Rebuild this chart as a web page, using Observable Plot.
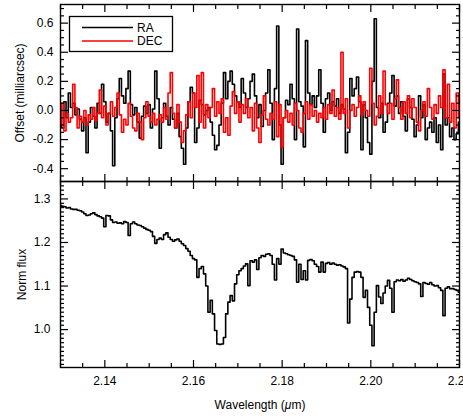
<!DOCTYPE html>
<html><head><meta charset="utf-8">
<script src="https://cdn.jsdelivr.net/npm/d3@7"></script>
<script src="https://cdn.jsdelivr.net/npm/@observablehq/plot@0.6"></script>
<style>
body{margin:0;background:#fff;}
#wrap{position:relative;width:463px;height:417px;overflow:hidden;font-family:"Liberation Sans",Arial,Helvetica,sans-serif;}
#wrap svg{position:absolute;left:0;background:transparent;}
</style></head><body><div id="wrap"></div>
<script>
// Wavelength sampling (µm)
const wlStart = 2.13, wlStep = 0.0005;

// Normalised flux (bottom panel)
const flux = [
1.285,1.283,1.282,1.279,1.280,1.277,1.276,1.276,1.274,1.273,
1.270,1.266,1.262,1.263,1.266,1.268,1.264,1.261,1.259,1.256,
1.236,1.262,1.261,1.252,1.246,1.247,1.244,1.245,1.243,1.248,
1.246,1.216,1.243,1.247,1.243,1.240,1.239,1.236,1.233,1.230,
1.228,1.225,1.214,1.198,1.207,1.210,1.207,1.218,1.222,1.212,
1.207,1.203,1.206,1.208,1.203,1.197,1.193,1.186,1.180,1.170,
1.163,1.160,1.120,1.140,1.145,1.128,1.100,1.040,1.067,1.036,
0.998,0.967,0.966,0.967,0.982,1.036,1.063,1.078,1.066,1.105,
1.126,1.135,1.140,1.146,1.151,1.101,1.158,1.155,1.160,1.138,
1.165,1.170,1.168,1.173,1.174,1.170,1.150,1.114,1.163,1.150,
1.185,1.176,1.174,1.172,1.170,1.168,1.160,1.109,1.150,1.115,
1.135,1.114,1.159,1.161,1.158,1.150,1.145,1.132,1.155,1.132,
1.152,1.154,1.150,1.153,1.150,1.148,1.149,1.146,1.144,1.140,
1.015,1.070,1.120,1.132,1.133,1.132,1.120,1.074,1.090,1.051,
1.010,0.963,1.040,1.101,1.075,1.060,1.084,1.100,1.113,1.095,
1.040,1.110,1.114,1.112,1.115,1.111,1.114,1.118,1.115,1.112,
1.110,1.108,1.105,1.076,1.108,1.106,1.104,1.108,1.103,1.100,
1.101,1.096,1.090,1.032,1.095,1.098,1.094,1.094,1.092,1.090,
1.086];

// RA offset (milliarcsec)
const ra = [
0.04,-0.12,0.06,-0.05,0.12,0.02,0.05,-0.03,0.01,-0.06,
-0.14,-0.05,-0.29,-0.08,0.02,-0.04,-0.12,0.05,-0.02,0.18,
0.06,-0.08,-0.02,-0.14,-0.38,-0.05,0.08,0.22,0.10,0.05,
0.15,0.27,0.04,-0.03,0.02,-0.08,-0.19,-0.04,0.03,-0.02,
0.04,-0.12,0.01,0.27,0.08,-0.26,-0.05,0.05,-0.04,-0.10,
0.02,-0.06,-0.12,-0.02,-0.18,-0.26,-0.37,-0.12,0.06,0.16,
0.12,-0.22,-0.12,0.07,0.04,-0.03,0.00,0.02,-0.08,-0.17,
-0.27,-0.24,-0.10,0.05,0.26,0.08,0.20,0.27,0.18,0.10,
0.06,0.02,0.22,0.12,0.02,0.08,0.20,0.25,0.10,-0.05,
0.04,-0.11,0.00,0.12,0.28,0.05,-0.20,0.15,0.58,-0.10,
-0.37,-0.05,0.07,0.04,0.18,0.08,-0.20,0.56,0.06,0.03,
-0.25,0.48,0.12,0.04,0.10,0.02,0.10,0.28,0.05,-0.15,
0.08,0.12,0.00,0.06,0.03,0.08,-0.02,0.04,0.01,-0.29,
-0.15,0.22,0.10,0.15,0.23,0.06,-0.27,0.04,-0.05,-0.22,
-0.30,0.20,0.63,0.02,-0.05,0.05,-0.15,-0.08,0.05,0.12,
0.24,0.03,0.10,-0.02,0.06,-0.04,-0.14,0.08,0.02,-0.06,
-0.18,-0.10,0.10,-0.05,0.04,-0.20,-0.12,-0.08,-0.15,-0.05,
-0.22,-0.10,-0.27,0.25,-0.10,-0.05,-0.18,-0.12,-0.20,-0.16,
-0.08];

// DEC offset (milliarcsec)
const dec = [
-0.10,0.05,-0.14,-0.02,-0.08,-0.05,0.18,0.02,-0.12,-0.04,
-0.08,0.00,-0.10,-0.03,-0.06,0.02,-0.07,-0.02,0.14,-0.05,
0.03,-0.10,-0.02,0.06,-0.04,0.02,0.12,-0.03,-0.15,-0.06,
-0.10,0.05,-0.04,-0.12,-0.14,-0.02,-0.08,-0.20,-0.05,0.06,
-0.04,-0.08,-0.02,-0.10,-0.06,-0.03,-0.08,0.02,-0.06,0.12,
0.26,-0.02,-0.12,0.04,-0.08,-0.22,-0.14,-0.03,0.06,-0.05,
0.12,0.02,0.24,-0.08,0.26,-0.12,0.04,-0.05,0.02,0.15,
-0.04,0.06,-0.02,0.08,-0.15,-0.05,-0.17,0.03,0.13,-0.02,
0.06,-0.08,0.04,-0.02,0.08,-0.05,0.02,-0.14,0.05,-0.12,
-0.22,-0.03,0.10,-0.06,-0.10,-0.02,-0.06,0.06,-0.18,0.04,
-0.25,-0.05,0.00,-0.08,-0.02,-0.10,0.05,0.00,-0.12,-0.15,
-0.02,0.06,-0.06,0.04,-0.04,0.00,-0.08,-0.02,-0.05,0.02,
-0.06,0.04,-0.02,0.14,-0.04,0.02,-0.06,0.40,-0.02,0.08,
-0.12,0.00,0.04,-0.04,0.02,0.10,-0.03,0.06,0.00,-0.04,
0.29,0.05,-0.10,-0.04,0.10,-0.02,0.27,0.04,-0.02,0.05,
-0.06,0.08,0.21,0.02,-0.06,0.06,-0.02,0.10,-0.05,0.08,
0.02,-0.08,-0.14,0.00,0.06,-0.04,0.15,0.02,-0.06,0.04,
-0.02,0.10,0.02,0.28,-0.05,0.18,-0.08,0.05,-0.12,0.12,
-0.05];

// Axis ticks and labels
const xDomain = [2.13, 2.22];
const xMajor = [2.14, 2.16, 2.18, 2.20, 2.22];
const xMinor = d3.range(0, 19).map(i => +(2.13 + i * 0.005).toFixed(3)).filter(v => !xMajor.some(m => Math.abs(m - v) < 1e-6));
const yTopDomain = [-0.488, 0.728];
const yTopMajor = [-0.4, -0.2, 0.0, 0.2, 0.4, 0.6];
const yTopMinor = d3.range(-9, 15).map(i => +(i * 0.05).toFixed(2)).filter(v => !yTopMajor.some(m => Math.abs(m - v) < 1e-6));
const yBotDomain = [0.913, 1.34];
const yBotMajor = [1.0, 1.1, 1.2, 1.3];
const yBotMinor = d3.range(92, 134).map(i => +(i * 0.01).toFixed(2)).filter(v => !yBotMajor.some(m => Math.abs(m - v) < 1e-6));
const seriesNames = ["RA", "DEC"];
const seriesColors = ["#000000", "#ff0000"];

const rows = flux.map((f, i) => ({wl: wlStart + i * wlStep, flux: f, ra: ra[i], dec: dec[i]}));

const FONT = '"Liberation Sans", Arial, Helvetica, sans-serif';
const common = {
  width: 463, marginLeft: 60, marginRight: 4,
  style: {fontFamily: FONT, fontSize: "12px", color: "black", background: "transparent", overflow: "visible"},
  x: {domain: xDomain}
};

function ticksIn(scale, anchor, values, len) {
  const o = {anchor, ticks: values, tickSize: len, fill: "none", label: null, stroke: "black", strokeWidth: 1.2};
  if (scale === "y") { o.dx = anchor === "left" ? len : -len; return Plot.axisY(o); }
  o.dy = anchor === "bottom" ? -len : len; return Plot.axisX(o);
}
function allTicks(yMajor, yMinor) {
  return [
    ticksIn("x", "bottom", xMajor, 7), ticksIn("x", "bottom", xMinor, 4),
    ticksIn("x", "top", xMajor, 7), ticksIn("x", "top", xMinor, 4),
    ticksIn("y", "left", yMajor, 8), ticksIn("y", "left", yMinor, 4),
    ticksIn("y", "right", yMajor, 8), ticksIn("y", "right", yMinor, 4)
  ];
}

const topPlot = Plot.plot({
  ...common, height: 183, marginTop: 4, marginBottom: 2,
  y: {domain: yTopDomain},
  marks: [
    Plot.line(rows, {x: "wl", y: "ra", curve: "step", stroke: seriesColors[0], strokeWidth: 1.6, clip: true}),
    Plot.line(rows, {x: "wl", y: "dec", curve: "step", stroke: seriesColors[1], strokeWidth: 1.6, clip: true}),
    Plot.axisY({anchor: "left", ticks: yTopMajor, tickSize: 0, tickPadding: 7, tickFormat: d => d.toFixed(1), label: null, fontSize: 12}),
    ...allTicks(yTopMajor, yTopMinor),
    Plot.frame({stroke: "black", strokeWidth: 1.4}),
    Plot.text(["Offset (milliarcsec)"], {frameAnchor: "left", dx: -40, rotate: -90, textAnchor: "middle", lineAnchor: "middle", text: d => d, fontSize: 12, fill: "black"})
  ]
});
topPlot.style.top = "0px";

const botPlot = Plot.plot({
  ...common, height: 238, marginTop: 2, marginBottom: 50,
  y: {domain: yBotDomain},
  marks: [
    Plot.line(rows, {x: "wl", y: "flux", curve: "step", stroke: "black", strokeWidth: 1.6, clip: true}),
    Plot.axisY({anchor: "left", ticks: yBotMajor, tickSize: 0, tickPadding: 10, tickFormat: d => d.toFixed(1), label: null, fontSize: 12}),
    Plot.axisX({anchor: "bottom", ticks: xMajor, tickSize: 0, tickPadding: 9, tickFormat: d => d.toFixed(2), label: null, fontSize: 12}),
    ...allTicks(yBotMajor, yBotMinor),
    Plot.frame({stroke: "black", strokeWidth: 1.4}),
    Plot.text(["Norm flux"], {frameAnchor: "left", dx: -38, rotate: -90, textAnchor: "middle", lineAnchor: "middle", text: d => d, fontSize: 12, fill: "black"}),
    Plot.text(["Wavelength (μm)"], {frameAnchor: "bottom", dy: 38, textAnchor: "middle", lineAnchor: "middle", text: d => d, fontSize: 12, fill: "black"})
  ]
});
botPlot.style.top = "179px";

const wrap = document.getElementById("wrap");
wrap.appendChild(topPlot);
wrap.appendChild(botPlot);

// italic mu in x label
botPlot.querySelectorAll("text").forEach(t => {
  if (t.textContent === "Wavelength (μm)") {
    t.textContent = "";
    const ns = "http://www.w3.org/2000/svg";
    const a = document.createElementNS(ns, "tspan"); a.textContent = "Wavelength (";
    const b = document.createElementNS(ns, "tspan"); b.textContent = "μ"; b.setAttribute("font-style", "italic");
    const c = document.createElementNS(ns, "tspan"); c.textContent = "m)";
    t.append(a, b, c);
  }
});

// Legend
const lg = document.createElementNS("http://www.w3.org/2000/svg", "svg");
lg.setAttribute("width", 463); lg.setAttribute("height", 60);
lg.style.top = "0px";
lg.innerHTML = `<rect x="69.5" y="16.5" width="103" height="35" fill="white" stroke="black" stroke-width="1.3"/>` +
  seriesNames.map((n, i) => `<line x1="82" x2="133" y1="${27.5 + i * 13.5}" y2="${27.5 + i * 13.5}" stroke="${seriesColors[i]}" stroke-width="1.6"/>` +
  `<text x="137" y="${31.5 + i * 13.5}" font-family='${FONT}' font-size="12" fill="black">${n}</text>`).join("");
wrap.appendChild(lg);
</script></body></html>
